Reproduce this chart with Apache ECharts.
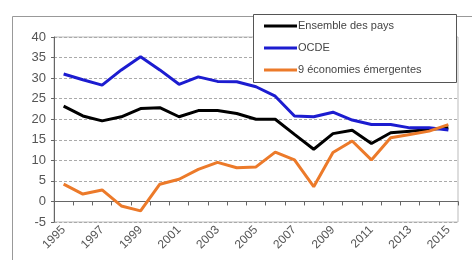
<!DOCTYPE html>
<html lang="fr">
<head>
    <meta charset="UTF-8">
    <title>Taux</title>
    <style>
        html, body { margin: 0; padding: 0; background: #fff; }
    </style>
</head>
<body>
    <div id="main" style="width: 472px;height:260px;"></div>
    <script src="https://cdn.jsdelivr.net/npm/echarts@6/dist/echarts.min.js"></script>
<script type="text/javascript">
    // annees 1995 - 2015
    var years = ['1995','1996','1997','1998','1999','2000','2001','2002','2003','2004','2005',
                 '2006','2007','2008','2009','2010','2011','2012','2013','2014','2015'];

    var ensemble = [23.2, 20.8, 19.6, 20.6, 22.6, 22.8, 20.6, 22.1, 22.1, 21.4, 20.0,
                    20.0, 16.3, 12.7, 16.5, 17.3, 14.1, 16.7, 17.1, 17.5, 17.9];
    var ocde = [31.0, 29.6, 28.3, 32.0, 35.2, 32.0, 28.5, 30.3, 29.2, 29.1, 27.9,
                25.6, 20.8, 20.6, 21.7, 19.8, 18.7, 18.7, 17.9, 17.9, 17.4];
    var emergentes = [4.2, 1.8, 2.8, -1.1, -2.3, 4.2, 5.4, 7.8, 9.5, 8.2, 8.4,
                      12.0, 10.1, 3.6, 11.9, 14.7, 10.1, 15.5, 16.3, 17.1, 18.7];

    var noms = ['Ensemble des pays', 'OCDE', '9 économies émergentes'];
    var couleurs = ['#000000', '#1c1cd0', '#ec7a2a'];

    var myChart = echarts.init(document.getElementById('main'));

    myChart.setOption({
        animation: false,
        color: couleurs,
        textStyle: { fontFamily: 'Liberation Sans, Arial, sans-serif' },
        grid: { left: 54, right: 14, top: 37, bottom: 38, show: true, borderColor: '#bbb', borderWidth: 1 },
        graphic: [
            // cadre exterieur
            { type: 'rect', left: 10, top: 14, z: 0, silent: true,
              shape: { width: 480, height: 300 },
              style: { fill: 'none', stroke: '#999', lineWidth: 1 } },
            // fond de la legende
            { type: 'rect', left: 253, top: 14, z: 50, silent: true,
              shape: { width: 203, height: 68 },
              style: { fill: '#fff', stroke: '#555', lineWidth: 1 } }
        ],
        legend: {
            z: 60,
            orient: 'vertical',
            left: 254,
            top: 18,
            itemWidth: 33,
            itemHeight: 3,
            itemGap: 8,
            icon: 'rect',
            textStyle: { fontSize: 11, color: '#444', lineHeight: 14, padding: [0, 0, 0, -4] },
            padding: [1, 5, 1, 10],
            data: noms
        },
        xAxis: [{
            type: 'category',
            data: years,
            boundaryGap: true,
            axisLine: { onZero: true, lineStyle: { color: '#666', width: 1 } },
            axisTick: { show: true, inside: false, length: 4, interval: 0, lineStyle: { color: '#666' } },
            axisLabel: { show: false },
            splitLine: { show: false }
        }, {
            type: 'category',
            data: years,
            position: 'bottom',
            boundaryGap: true,
            axisLine: { show: false, onZero: false },
            axisTick: { show: false },
            axisLabel: { interval: 1, rotate: 45, fontSize: 12, color: '#555', margin: 6 },
            splitLine: { show: false }
        }],
        yAxis: {
            type: 'value',
            min: -5,
            max: 40,
            interval: 5,
            axisLine: { show: true, lineStyle: { color: '#666' } },
            axisTick: { show: true, length: 3, lineStyle: { color: '#666' } },
            axisLabel: { fontSize: 13, color: '#555', margin: 8 },
            splitLine: { lineStyle: { color: '#aaa', type: [3, 2], width: 1 } }
        },
        series: [
            { name: noms[0], type: 'line', data: ensemble, symbol: 'none', lineStyle: { width: 3 } },
            { name: noms[1], type: 'line', data: ocde, symbol: 'none', lineStyle: { width: 3 } },
            { name: noms[2], type: 'line', data: emergentes, symbol: 'none', lineStyle: { width: 3 } }
        ]
    });
</script>
</body>
</html>
